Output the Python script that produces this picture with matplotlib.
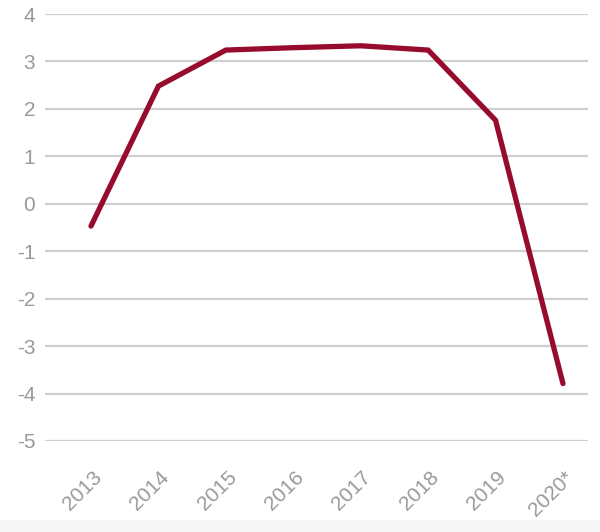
import matplotlib
matplotlib.use("Agg")
import matplotlib.pyplot as plt
from matplotlib.patches import Rectangle
from matplotlib.transforms import ScaledTranslation

years = ["2013", "2014", "2015", "2016", "2017", "2018", "2019", "2020*"]
values = [-0.47, 2.48, 3.24, 3.29, 3.33, 3.24, 1.76, -3.79]
yticks = [4, 3, 2, 1, 0, -1, -2, -3, -4, -5]

plt.rcParams['font.family'] = ['Liberation Sans', 'DejaVu Sans']

fig = plt.figure(figsize=(6.0, 5.32), dpi=100)
fig.patches.append(Rectangle((0, 0), 1, 12/532, transform=fig.transFigure,
                             facecolor='#f6f6f6', edgecolor='none', zorder=0))
ax = fig.add_axes([0.075, 1 - 441/532, 0.905, (441 - 14)/532])

x = list(range(len(years)))
ax.plot(x, values, color='#970c2c', linewidth=3.8, solid_joinstyle='miter',
        solid_capstyle='round', clip_on=False, zorder=3)

ax.set_ylim(-5, 4)
ax.set_xlim(-0.682, 7.371)
ax.set_yticks(yticks)
ax.set_yticklabels([str(v) for v in yticks])
ax.set_xticks(x)

ax.grid(axis='y', color='#cfcfcf', linewidth=1.6)
ax.set_axisbelow(True)
for s in ax.spines.values():
    s.set_visible(False)
ax.tick_params(axis='both', length=0, labelsize=15, colors='#999999')
ax.tick_params(axis='y', pad=7)

ax.set_xticklabels(years, rotation=45, ha='right', va='top', rotation_mode='anchor')
offset = ScaledTranslation(1/100, -22/100, fig.dpi_scale_trans)
for lab in ax.get_xticklabels():
    lab.set_transform(lab.get_transform() + offset)

fig.savefig("out.png", dpi=100)
